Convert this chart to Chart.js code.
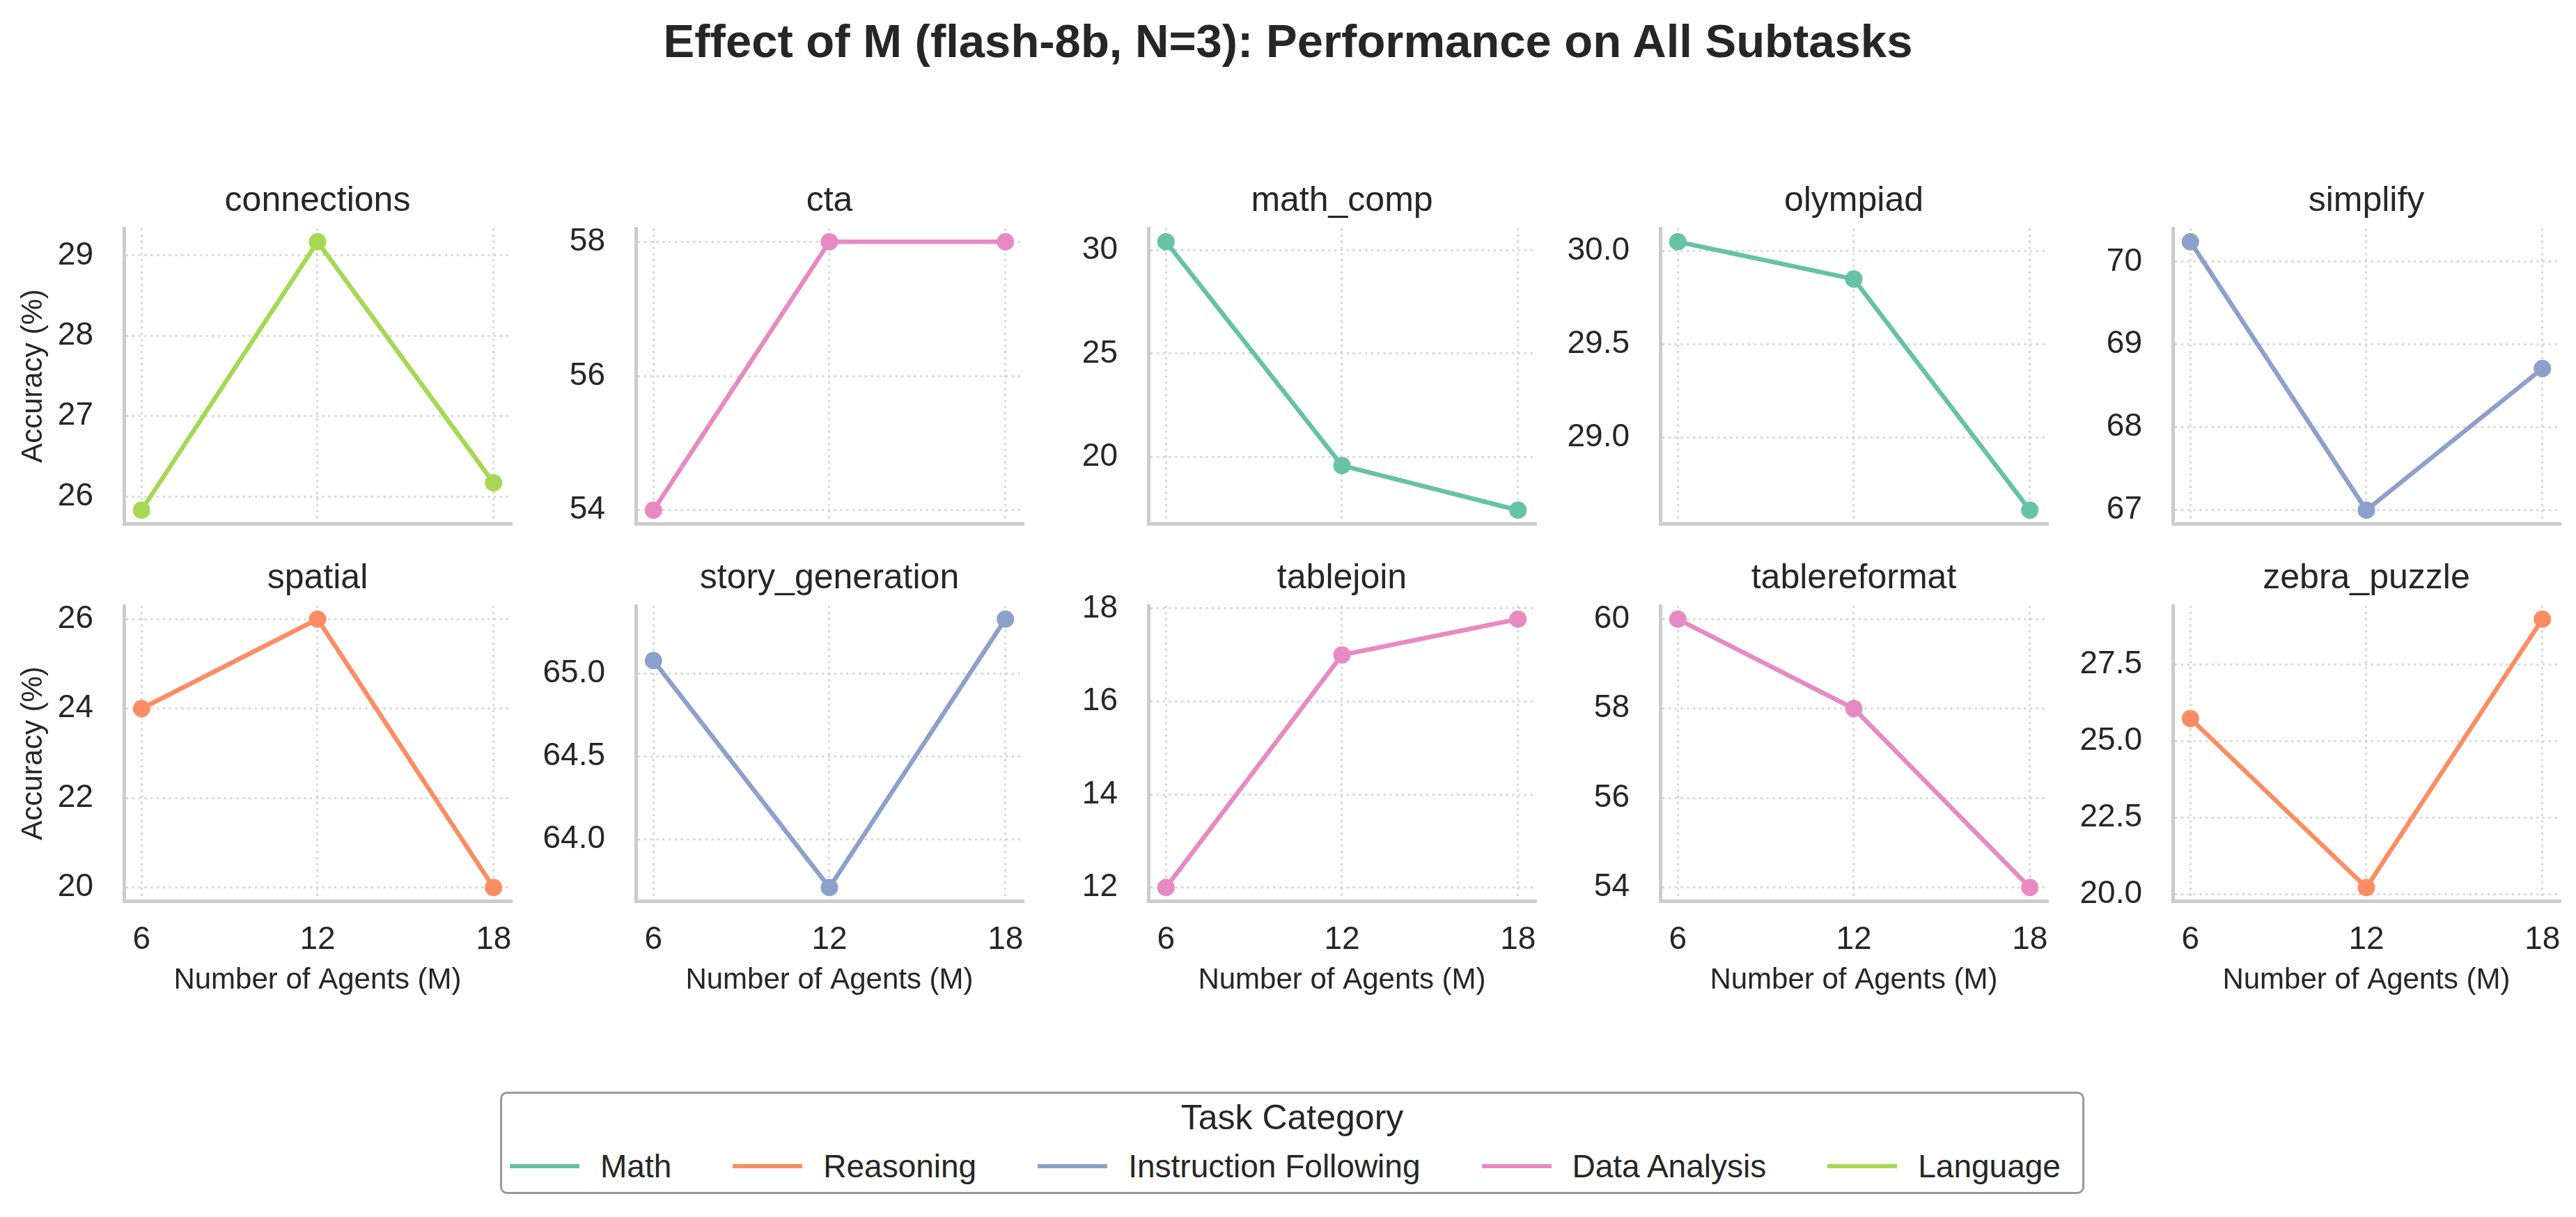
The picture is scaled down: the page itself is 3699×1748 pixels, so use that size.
<!DOCTYPE html>
<html>
<head>
<meta charset="utf-8">
<script src="https://cdn.jsdelivr.net/npm/chart.js@4.4.0/dist/chart.umd.min.js"></script>
<style>
  body { margin: 0; background: #fff; }
  #page { position: relative; width: 3699px; height: 1748px; overflow: hidden;
          font-family: 'Liberation Sans', Arial, sans-serif; color: #262626; }
  #title { position: absolute; left: 0; top: 21px; width: 100%; text-align: center;
           font-weight: bold; font-size: 67px; line-height: 76px; }
  canvas { position: absolute; }
  #legend { position: absolute; left: 718px; top: 1568px; width: 2275px; height: 147px;
            box-sizing: border-box; border: 3px solid #999; border-radius: 10px; background: #fff; }
  #legend .ttl { position: absolute; left: 0; top: 4px; width: 100%; text-align: center;
                 font-size: 50px; line-height: 60px; }
  #legend .row { position: absolute; left: 11px; top: 76px; display: flex; align-items: center;
                 height: 56px; font-size: 46px; line-height: 56px; white-space: nowrap; }
  #legend .item { display: flex; align-items: center; margin-right: 88px; }
  #legend .item:last-child { margin-right: 0; }
  #legend .swatch { width: 100px; height: 6px; margin-right: 30px; }
</style>
</head>
<body>
<div id="page">
  <div id="title">Effect of M (flash-8b, N=3): Performance on All Subtasks</div>
  <div id="legend"><div class="ttl">Task Category</div><div class="row" id="legendRow"></div></div>
</div>
<script>
// x axis: number of agents
const agentCounts = [6, 12, 18];

// subtasks in panel order and their category
const subtasks = ['connections', 'cta', 'math_comp', 'olympiad', 'simplify',
                  'spatial', 'story_generation', 'tablejoin', 'tablereformat', 'zebra_puzzle'];
const subtaskCategory = ['Language', 'Data Analysis', 'Math', 'Math', 'Instruction Following',
                         'Reasoning', 'Instruction Following', 'Data Analysis', 'Data Analysis', 'Reasoning'];

// accuracy (%) per subtask at M = 6, 12, 18
const connections = [25.83, 29.17, 26.17];
const cta = [54.0, 58.0, 58.0];
const mathComp = [30.42, 19.58, 17.42];
const olympiad = [30.05, 29.85, 28.61];
const simplify = [70.24, 67.0, 68.71];
const spatial = [24.0, 26.0, 20.0];
const storyGeneration = [65.08, 63.71, 65.33];
const tablejoin = [12.0, 17.0, 17.77];
const tablereformat = [60.0, 58.0, 54.0];
const zebraPuzzle = [25.73, 20.22, 28.97];

// y tick labels per panel
const connectionsTicks = ['26', '27', '28', '29'];
const ctaTicks = ['54', '56', '58'];
const mathCompTicks = ['20', '25', '30'];
const olympiadTicks = ['29.0', '29.5', '30.0'];
const simplifyTicks = ['67', '68', '69', '70'];
const spatialTicks = ['20', '22', '24', '26'];
const storyGenerationTicks = ['64.0', '64.5', '65.0'];
const tablejoinTicks = ['12', '14', '16', '18'];
const tablereformatTicks = ['54', '56', '58', '60'];
const zebraPuzzleTicks = ['20.0', '22.5', '25.0', '27.5'];

const categories = ['Math', 'Reasoning', 'Instruction Following', 'Data Analysis', 'Language'];
const categoryColors = ['#66c2a5', '#fc8d62', '#8da0cb', '#e78ac3', '#a6d854'];

const panelValues = [connections, cta, mathComp, olympiad, simplify,
                     spatial, storyGeneration, tablejoin, tablereformat, zebraPuzzle];
const panelTicks = [connectionsTicks, ctaTicks, mathCompTicks, olympiadTicks, simplifyTicks,
                    spatialTicks, storyGenerationTicks, tablejoinTicks, tablereformatTicks, zebraPuzzleTicks];

// layout (pixels)
const colLeft = [178, 913, 1649, 2384, 3120];
const rowTop = [328, 870];
const AXIS_W = 178, PLOT_W = 556, PLOT_H = 424, PAD_R = 40, TITLE_H = 89;
const TEXT = '#262626', GRID = 'rgba(204,204,204,0.75)', SPINE = '#cccccc';
const FONT = "'Liberation Sans', Arial, sans-serif";

Chart.defaults.font.family = FONT;
Chart.defaults.color = TEXT;

function padRange(vals) {
  const lo = Math.min(...vals), hi = Math.max(...vals), m = (hi - lo) * 0.05;
  return [lo - m, hi + m];
}

const [xMin, xMax] = padRange(agentCounts);
const page = document.getElementById('page');

subtasks.forEach((name, i) => {
  const col = i % 5, row = Math.floor(i / 5);
  const xAxH = row ? 140 : 100;
  const canvas = document.createElement('canvas');
  canvas.width = AXIS_W + PLOT_W + PAD_R;
  canvas.height = TITLE_H + PLOT_H + xAxH;
  canvas.style.left = (colLeft[col] - AXIS_W) + 'px';
  canvas.style.top = (rowTop[row] - TITLE_H) + 'px';
  page.appendChild(canvas);

  const vals = panelValues[i];
  const tickLabels = panelTicks[i];
  const [yMin, yMax] = padRange(vals);
  const color = categoryColors[categories.indexOf(subtaskCategory[i])];

  new Chart(canvas, {
    type: 'line',
    data: {
      datasets: [{
        label: name,
        data: agentCounts.map((m, k) => ({ x: m, y: vals[k] })),
        borderColor: color,
        backgroundColor: color,
        borderWidth: 6.5,
        pointRadius: 12.5,
        pointHoverRadius: 12.5,
        pointBorderWidth: 0,
        pointBackgroundColor: color,
        tension: 0,
        clip: false,
      }],
    },
    options: {
      responsive: false,
      animation: false,
      devicePixelRatio: 1,
      layout: { padding: { left: 0, top: 0, right: PAD_R, bottom: 0 } },
      plugins: {
        legend: { display: false },
        tooltip: { enabled: false },
        title: {
          display: true,
          fullSize: false,
          text: name,
          color: TEXT,
          font: { size: 50, weight: 'normal' },
          padding: { top: 20, bottom: 9 },
        },
      },
      scales: {
        x: {
          type: 'linear',
          min: xMin,
          max: xMax,
          afterBuildTicks: (s) => { s.ticks = agentCounts.map(v => ({ value: v })); },
          afterFit: (s) => { s.height = xAxH; },
          ticks: {
            display: row === 1,
            padding: 29,
            autoSkip: false,
            maxRotation: 0,
            color: TEXT,
            font: { size: 46 },
            callback: (v) => String(v),
          },
          grid: { color: GRID, lineWidth: 3, drawTicks: false },
          border: { display: true, color: SPINE, width: 5, dash: [3.3, 5.5] },
          title: {
            display: row === 1,
            text: 'Number of Agents (M)',
            color: TEXT,
            font: { size: 42 },
            padding: { top: 0, bottom: 0 },
          },
        },
        y: {
          type: 'linear',
          min: yMin,
          max: yMax,
          afterBuildTicks: (s) => { s.ticks = tickLabels.map(t => ({ value: Number(t) })); },
          afterFit: (s) => { s.width = AXIS_W; },
          ticks: {
            padding: 44,
            autoSkip: false,
            color: TEXT,
            font: { size: 46 },
            callback: (v, k) => tickLabels[k],
          },
          grid: { color: GRID, lineWidth: 3, drawTicks: false },
          border: { display: true, color: SPINE, width: 5, dash: [3.3, 5.5] },
          title: {
            display: col === 0,
            text: 'Accuracy (%)',
            color: TEXT,
            font: { size: 42 },
            padding: { top: 23, bottom: 0 },
          },
        },
      },
    },
  });
});

// legend entries
const legendRow = document.getElementById('legendRow');
categories.forEach((c, k) => {
  const item = document.createElement('div');
  item.className = 'item';
  const sw = document.createElement('div');
  sw.className = 'swatch';
  sw.style.background = categoryColors[k];
  const label = document.createElement('span');
  label.textContent = c;
  item.appendChild(sw);
  item.appendChild(label);
  legendRow.appendChild(item);
});
</script>
</body>
</html>
